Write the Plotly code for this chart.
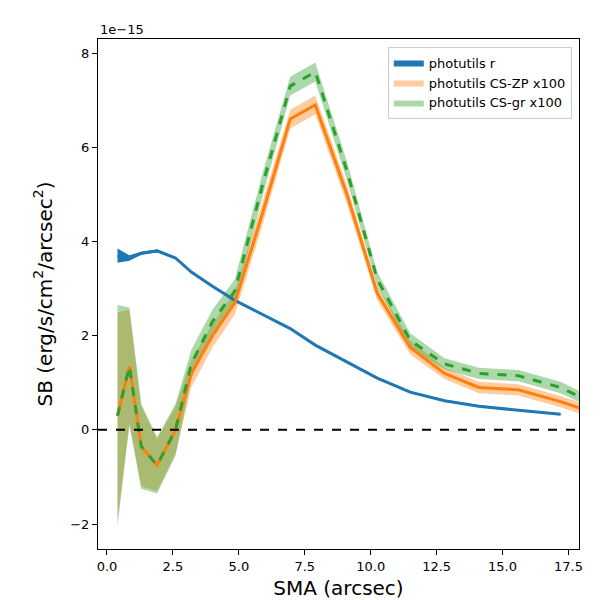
import plotly.graph_objects as go

sma = [0.4, 0.85, 1.3, 1.9, 2.6, 3.2, 4.0, 4.85, 5.9, 6.95, 7.9, 9.1, 10.25, 11.5, 12.8, 14.1, 15.6, 17.2, 18.5]

r_sma = sma[:18]
r_val = [3.7, 3.65, 3.75, 3.8, 3.65, 3.35, 3.05, 2.75, 2.45, 2.15, 1.8, 1.45, 1.1, 0.8, 0.62, 0.5, 0.42, 0.33]
r_err = [0.15, 0.06, 0.03, 0.03, 0.02, 0.02, 0.02, 0.02, 0.02, 0.02, 0.02, 0.02, 0.02, 0.02, 0.02, 0.02, 0.02, 0.02]

zp_val = [0.3, 1.35, -0.35, -0.75, 0.0, 1.2, 2.0, 2.7, 4.6, 6.6, 6.9, 5.0, 2.9, 1.75, 1.2, 0.9, 0.85, 0.6, 0.35]
zp_err = [2.2, 1.2, 0.85, 0.55, 0.5, 0.3, 0.25, 0.25, 0.25, 0.2, 0.2, 0.2, 0.15, 0.15, 0.12, 0.12, 0.12, 0.12, 0.12]

gr_val = [0.3, 1.35, -0.35, -0.75, 0.0, 1.4, 2.3, 2.95, 5.2, 7.3, 7.6, 5.5, 3.2, 1.9, 1.4, 1.2, 1.15, 0.9, 0.55]
gr_err = [2.35, 1.25, 0.9, 0.6, 0.55, 0.3, 0.25, 0.25, 0.25, 0.2, 0.2, 0.2, 0.15, 0.15, 0.12, 0.12, 0.12, 0.12, 0.12]

fig = go.Figure()


def band(x, y, e, color, name):
    up = [a + b for a, b in zip(y, e)]
    lo = [a - b for a, b in zip(y, e)]
    fig.add_trace(go.Scatter(x=x + x[::-1], y=up + lo[::-1], fill="toself",
                             fillcolor=color, line=dict(width=0), mode="lines",
                             name=name, hoverinfo="skip"))


band(r_sma, r_val, r_err, "#1f77b4", "photutils r")
band(sma, zp_val, zp_err, "rgba(255,127,14,0.4)", "photutils CS-ZP x100")
band(sma, gr_val, gr_err, "rgba(44,160,44,0.4)", "photutils CS-gr x100")

fig.add_trace(go.Scatter(x=r_sma, y=r_val, mode="lines", line=dict(color="#1f77b4", width=3), showlegend=False))
fig.add_trace(go.Scatter(x=sma, y=zp_val, mode="lines", line=dict(color="#ff7f0e", width=3), showlegend=False))
fig.add_trace(go.Scatter(x=sma, y=gr_val, mode="lines", line=dict(color="#2ca02c", width=3, dash="dash"), showlegend=False))

fig.add_hline(y=0, line=dict(color="black", width=2, dash="dash"))

axis = dict(showline=True, linecolor="black", linewidth=1, mirror=True, ticks="outside",
            tickcolor="black", showgrid=False, zeroline=False, automargin=False,
            tickfont=dict(size=13, color="black"))
fig.update_xaxes(axis, range=[-0.34, 17.9], tickvals=[0, 2.5, 5, 7.5, 10, 12.5, 15, 17.5],
                 ticktext=["0.0", "2.5", "5.0", "7.5", "10.0", "12.5", "15.0", "17.5"],
                 title=dict(text="SMA (arcsec)", standoff=8, font=dict(size=20, color="black")))
fig.update_yaxes(axis, range=[-2.53, 8.3], tickvals=[-2, 0, 2, 4, 6, 8],
                 ticktext=["\u22122", "0", "2", "4", "6", "8"],
                 title=dict(text="SB (erg/s/cm<sup>2</sup>/arcsec<sup>2</sup>)", standoff=12,
                            font=dict(size=20, color="black")))

fig.add_annotation(text="1e\u221215", xref="paper", yref="paper", x=0, y=1, xanchor="left",
                   yanchor="bottom", showarrow=False, font=dict(size=13, color="black"))

fig.update_layout(width=600, height=600, margin=dict(l=90, r=29, t=31, b=59, autoexpand=False),
                  plot_bgcolor="white", paper_bgcolor="white",
                  font=dict(family="DejaVu Sans"),
                  legend=dict(x=0.985, y=0.985, xanchor="right", yanchor="top",
                              bordercolor="#cccccc", borderwidth=1, bgcolor="white",
                              font=dict(size=13, color="black")))

fig.write_html("out.html")
